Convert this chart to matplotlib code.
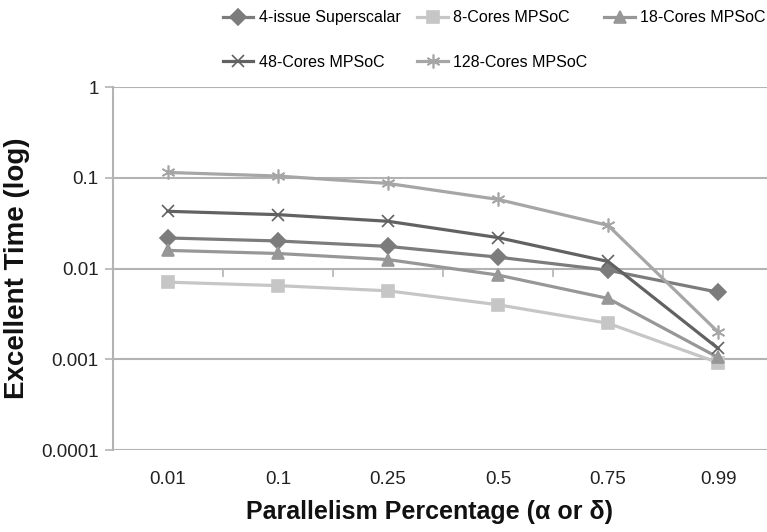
import matplotlib
matplotlib.use("Agg")
import matplotlib.pyplot as plt
from matplotlib.ticker import FixedLocator, NullLocator, NullFormatter

plt.rcParams['font.family'] = ['Liberation Sans', 'DejaVu Sans']

# data
categories = ["0.01", "0.1", "0.25", "0.5", "0.75", "0.99"]
superscalar_4 = [0.0218, 0.0202, 0.0176, 0.0134, 0.0096, 0.0055]
mpsoc_8 = [0.0071, 0.0065, 0.0057, 0.0040, 0.0025, 0.00092]
mpsoc_18 = [0.0159, 0.0147, 0.0126, 0.0085, 0.0047, 0.00105]
mpsoc_48 = [0.0429, 0.0394, 0.0333, 0.0220, 0.0120, 0.00132]
mpsoc_128 = [0.115, 0.105, 0.087, 0.058, 0.030, 0.0020]

series = [
    ("4-issue Superscalar", superscalar_4, "#7c7c7c", "D", 8),
    ("8-Cores MPSoC", mpsoc_8, "#c6c6c6", "s", 9),
    ("18-Cores MPSoC", mpsoc_18, "#979797", "^", 9),
    ("48-Cores MPSoC", mpsoc_48, "#626262", "x", 9),
    ("128-Cores MPSoC", mpsoc_128, "#a6a6a6", (6, 2, 0), 10),
]

fig = plt.figure(figsize=(7.67, 5.32), dpi=100)
ax = fig.add_axes([0.147, 0.154, 0.861, 0.682])

x = list(range(len(categories)))
handles = []
for name, vals, color, marker, ms in series:
    h, = ax.plot(x, vals, color=color, lw=2.3, marker=marker, markersize=ms,
                 markeredgecolor=color, markerfacecolor=color, markeredgewidth=1.2,
                 label=name, zorder=3)
    handles.append(h)

ax.set_yscale("log")
ax.set_ylim(1e-4, 1)
ax.set_xlim(-0.5, len(categories) - 0.5)

# gridlines at decades, x axis crosses at 0.01
grid_color = "#b3b3b3"
for v in [1, 0.1, 0.001, 0.0001]:
    ax.axhline(v, color=grid_color, lw=1.5, zorder=1)

for s in ["top", "right"]:
    ax.spines[s].set_visible(False)
ax.spines["left"].set_color(grid_color)
ax.spines["left"].set_linewidth(1.5)
ax.spines["bottom"].set_position(("data", 0.01))
ax.spines["bottom"].set_color(grid_color)
ax.spines["bottom"].set_linewidth(1.5)

ax.yaxis.set_major_locator(FixedLocator([1e-4, 1e-3, 1e-2, 1e-1, 1]))
ax.yaxis.set_minor_locator(NullLocator())
ax.set_yticklabels(["0.0001", "0.001", "0.01", "0.1", "1"], fontsize=13.5)
ax.tick_params(axis="y", length=6, width=1.2, color=grid_color, pad=4, labelcolor="#222222")

# category boundary ticks on the crossing line, no labels there
ax.xaxis.set_major_locator(FixedLocator([i + 0.5 for i in range(len(categories) - 1)]))
ax.xaxis.set_major_formatter(NullFormatter())
ax.tick_params(axis="x", length=6, width=1.2, color=grid_color, direction="out")

# category labels under the plot
sec = ax.secondary_xaxis("bottom")
sec.set_xticks(x)
sec.set_xticklabels(categories, fontsize=13.5, color="#222222")
sec.tick_params(length=0, pad=15)
sec.spines["bottom"].set_visible(False)
sec.set_xlabel("Parallelism Percentage (\u03b1 or \u03b4)", fontsize=18, fontweight="bold",
               labelpad=9, color="#111111")
sec.xaxis.label.set_x(0.48)

ax.set_ylabel("Excellent Time (log)", fontsize=20, fontweight="bold", labelpad=8,
              color="#111111")

order = [0, 3, 1, 4, 2]
fig.legend([handles[i] for i in order], [series[i][0] for i in order],
           loc="upper left", bbox_to_anchor=(0.272, 1.008), ncol=3, frameon=False,
           fontsize=11.5, handlelength=1.9, labelspacing=1.85, columnspacing=1.05,
           handletextpad=0.35)

fig.savefig("out.png", dpi=100)
